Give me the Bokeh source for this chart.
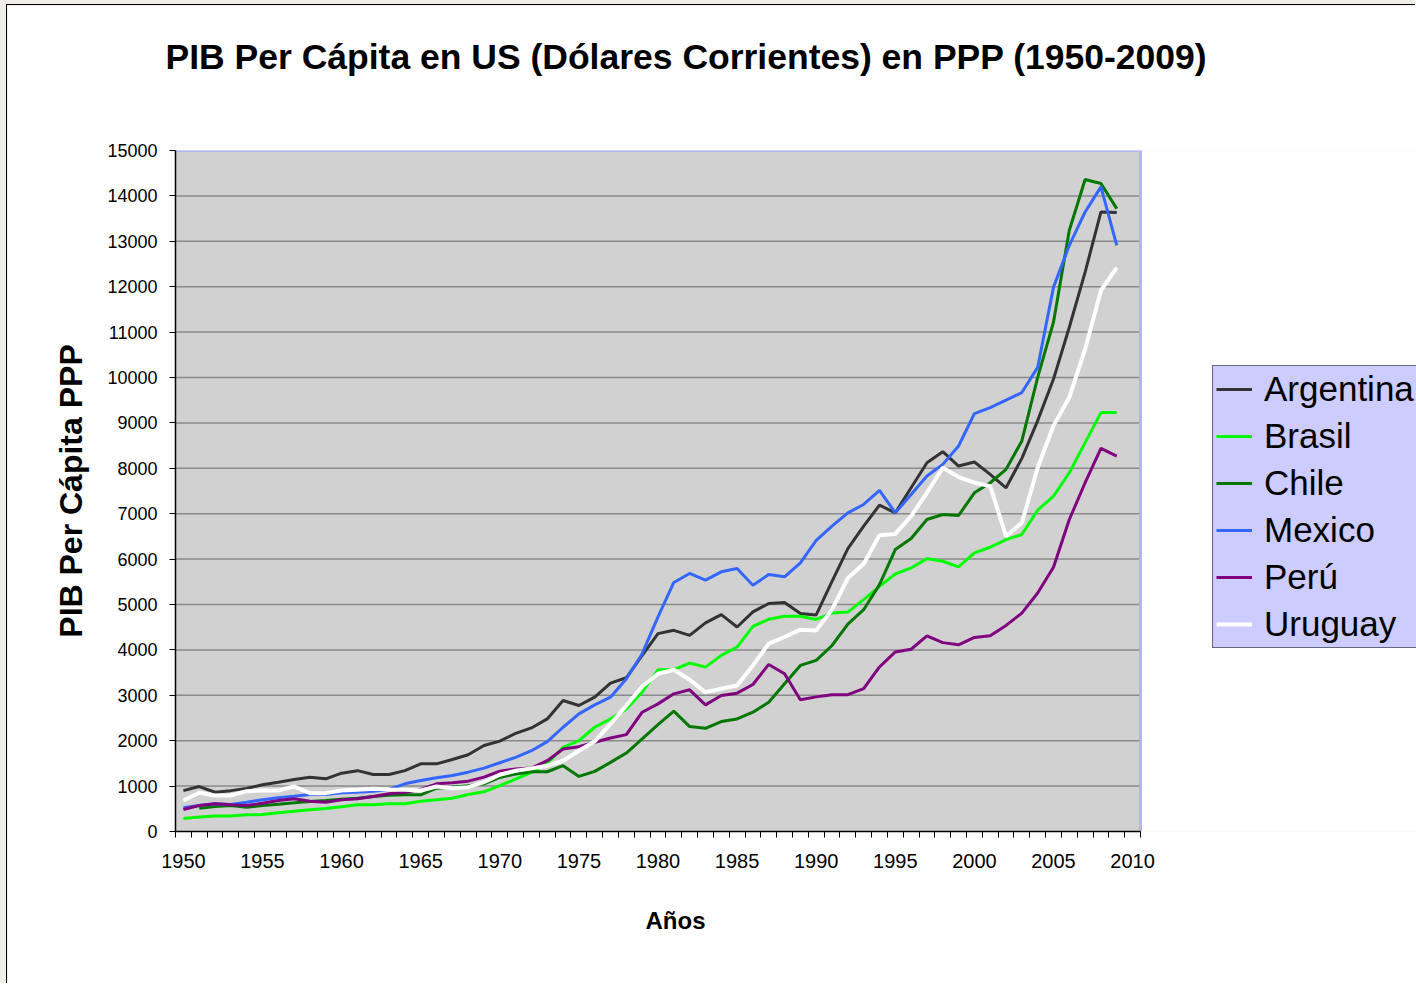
import math
from bokeh.plotting import figure
from bokeh.layouts import column
from bokeh.models import Range1d, FixedTicker, Legend, LegendItem, Title
from bokeh.embed import file_html
from bokeh.resources import INLINE

years = list(range(1950, 2010))

argentina = [900, 990, 865, 900, 950, 1030, 1085, 1145, 1195, 1160,
             1285, 1340, 1255, 1255, 1340, 1490, 1490, 1585, 1690, 1895,
             1990, 2163, 2281, 2480, 2885, 2775, 2959, 3268, 3386, 3879,
             4358, 4431, 4321, 4594, 4778, 4505, 4837, 5021, 5043, 4800,
             4770, 5510, 6232, 6725, 7188, 7019, 7571, 8123, 8366, 8050,
             8138, 7866, 7571, 8219, 9050, 9965, 11107, 12322, 13647, 13632]

brasil = [286, 317, 339, 339, 367, 374, 411, 448, 478, 507,
          543, 587, 587, 609, 609, 668, 698, 734, 815, 874,
          1010, 1154, 1302, 1500, 1854, 2001, 2296, 2480, 2701, 3069,
          3563, 3563, 3710, 3621, 3879, 4063, 4520, 4674, 4741, 4741,
          4670, 4811, 4833, 5106, 5400, 5672, 5805, 6011, 5952, 5827,
          6136, 6261, 6430, 6541, 7078, 7387, 7902, 8565, 9227, 9227]

chile = [float("nan"), 514, 550, 572, 536, 572, 602, 631, 661, 683,
         712, 734, 771, 800, 808, 808, 954, 977, 1006, 1050,
         1191, 1265, 1316, 1316, 1449, 1213, 1324, 1523, 1729, 2038,
         2355, 2650, 2311, 2274, 2421, 2480, 2628, 2848, 3253, 3658,
         3770, 4097, 4568, 4885, 5437, 6210, 6452, 6872, 6982, 6960,
         7461, 7682, 7976, 8602, 10003, 11218, 13242, 14361, 14272, 13720]

mexico = [521, 572, 609, 595, 646, 698, 742, 778, 815, 815,
          852, 866, 889, 925, 1050, 1123, 1182, 1233, 1307, 1395,
          1515, 1633, 1780, 1979, 2296, 2590, 2789, 2959, 3364, 3916,
          4726, 5485, 5683, 5536, 5720, 5794, 5426, 5661, 5610, 5919,
          6410, 6725, 7019, 7203, 7512, 7019, 7424, 7829, 8086, 8491,
          9205, 9338, 9500, 9669, 10222, 11991, 12911, 13647, 14199, 12911]

peru = [485, 572, 609, 587, 572, 624, 683, 720, 668, 646,
        698, 720, 771, 830, 866, 925, 1050, 1072, 1109, 1197,
        1330, 1375, 1397, 1559, 1817, 1869, 1965, 2060, 2134, 2627,
        2811, 3032, 3121, 2789, 2996, 3047, 3239, 3680, 3475, 2900,
        2965, 3013, 3013, 3145, 3624, 3955, 4014, 4308, 4160, 4112,
        4274, 4311, 4539, 4811, 5253, 5819, 6872, 7682, 8440, 8270]

uruguay = [683, 852, 793, 793, 889, 903, 903, 991, 845, 845,
           903, 918, 940, 925, 918, 903, 991, 954, 977, 1086,
           1250, 1339, 1390, 1449, 1559, 1780, 1987, 2370, 2775, 3194,
           3474, 3563, 3342, 3069, 3143, 3216, 3658, 4137, 4284, 4446,
           4430, 4885, 5584, 5893, 6526, 6555, 6946, 7461, 8013, 7807,
           7682, 7608, 6504, 6799, 8013, 8940, 9562, 10629, 11917, 12418]

series = [
    ("Argentina", argentina, "#333333", 3),
    ("Brasil", brasil, "#00ff00", 3),
    ("Chile", chile, "#007800", 3),
    ("Mexico", mexico, "#3366ff", 3),
    ("Perú", peru, "#800080", 3),
    ("Uruguay", uruguay, "#ffffff", 4),
]

x_tick_labels = list(range(1950, 2011, 5))
y_ticks = list(range(0, 15001, 1000))

title_text = "PIB Per Cápita en US (Dólares Corrientes) en PPP (1950-2009)"
y_label_text = "PIB Per Cápita PPP"
x_label_text = "Años"

FONT = "Liberation Sans"

W, H = 1409, 979
BL, BT, BB = 168, 145, 153
x0, x1 = 1949.5, 2010.5          # category axis extent
plot_px = 965.0                   # width of the grey plot area
frame_w = W - BL
x_end = x0 + (x1 - x0) * frame_w / plot_px

p = figure(width=W, height=H, output_backend="svg", toolbar_location=None,
           title=None,
           x_range=Range1d(x0, x_end), y_range=Range1d(0, 15000),
           min_border_left=BL, min_border_right=0,
           min_border_top=BT, min_border_bottom=BB)

p.background_fill_color = "white"
p.border_fill_color = "white"
p.outline_line_color = None

# grey plot area, grid lines and its light border
p.quad(left=[x0], right=[x1], bottom=[y_ticks[0]], top=[y_ticks[-1]],
       fill_color="#d1d1d1", line_color=None)
gy = y_ticks[1:-1]
p.segment(x0=[x0] * len(gy), x1=[x1] * len(gy), y0=gy, y1=gy,
          line_color="#8a8a8a", line_width=1.5)
p.line(x=[x0, x1, x1], y=[y_ticks[-1], y_ticks[-1], y_ticks[0]],
       line_color="#b4b4ee", line_width=3)

# titles
p.add_layout(Title(text=" ", text_font_size="51px", text_font=FONT), "above")
p.add_layout(Title(text=title_text, align="left", offset=-10,
                   text_font=FONT, text_font_size="35.5px",
                   text_font_style="bold", text_color="black"), "above")

# x axis
p.xaxis.bounds = (x0, x1)
p.xaxis.ticker = FixedTicker(ticks=x_tick_labels,
                             minor_ticks=[y - 0.5 for y in range(1950, 2012)])
p.xaxis.major_tick_line_color = None
p.xaxis.major_tick_out = 6
p.xaxis.major_tick_in = 0
p.xaxis.minor_tick_line_color = "black"
p.xaxis.minor_tick_in = 0
p.xaxis.minor_tick_out = 6
p.xaxis.major_label_standoff = 16
p.xaxis.major_label_text_font = FONT
p.xaxis.major_label_text_font_size = "20px"
p.xaxis.major_label_text_color = "black"
p.xaxis.axis_line_color = "black"
p.xaxis.axis_line_width = 1.5

p.add_layout(Title(text=" ", text_font_size="16px", text_font=FONT), "below")
p.add_layout(Title(text=x_label_text, align="left", offset=470,
                   text_font=FONT, text_font_size="24px",
                   text_font_style="bold", text_color="black"), "below")

# y axis
p.yaxis.ticker = FixedTicker(ticks=y_ticks)
p.yaxis.minor_tick_line_color = None
p.yaxis.major_tick_line_color = "black"
p.yaxis.major_tick_in = 0
p.yaxis.major_tick_out = 6
p.yaxis.major_label_standoff = 12
p.yaxis.major_label_text_font = FONT
p.yaxis.major_label_text_font_size = "18px"
p.yaxis.major_label_text_color = "black"
p.yaxis.axis_line_color = "black"
p.yaxis.axis_line_width = 1.5
p.yaxis.axis_label = y_label_text
p.yaxis.axis_label_text_font = FONT
p.yaxis.axis_label_text_font_size = "32px"
p.yaxis.axis_label_text_font_style = "bold"
p.yaxis.axis_label_text_color = "black"
p.yaxis.axis_label_standoff = 15

p.xgrid.visible = False
p.ygrid.visible = False

items = []
for name, vals, color, lw in series:
    r = p.line(years, vals, line_color=color, line_width=lw)
    items.append(LegendItem(label=name, renderers=[r]))

legend = Legend(items=items, location=(1037, 183))
legend.background_fill_color = "#ccccff"
legend.background_fill_alpha = 1.0
legend.border_line_color = "black"
legend.border_line_width = 1
legend.label_text_font = FONT
legend.label_text_font_size = "35px"
legend.label_text_color = "black"
legend.glyph_width = 36
legend.glyph_height = 40
legend.label_height = 40
legend.spacing = 7
legend.padding = 3
legend.margin = 0
legend.label_standoff = 12
p.add_layout(legend)

p.styles = {"border-left": "1px solid black", "border-top": "1px solid black"}

root = column(p, styles={"background-color": "#f0eee8",
                         "padding-left": "6px", "padding-top": "4px"})

open("out.html", "w").write(file_html(root, INLINE))
